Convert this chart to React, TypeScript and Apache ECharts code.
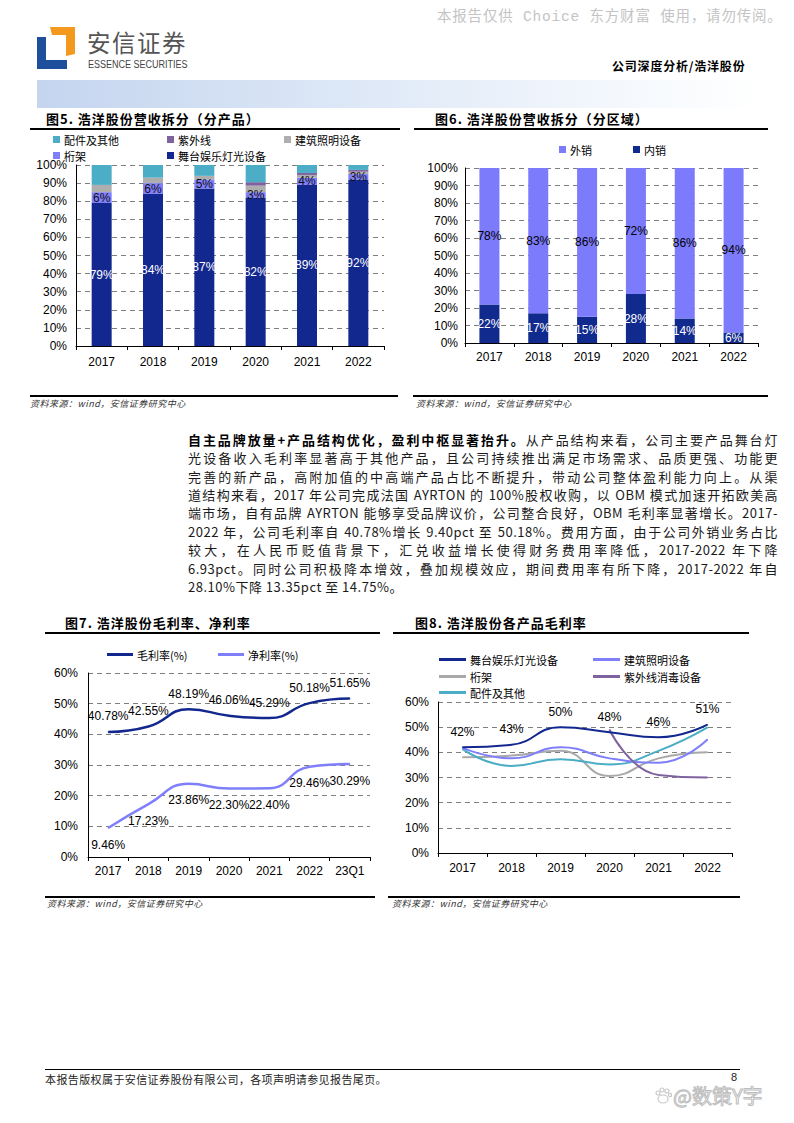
import React, { useEffect, useRef } from "react";
import * as echarts from "echarts";

// ---------- data ----------
const years = ["2017", "2018", "2019", "2020", "2021", "2022"];
const stageShare = [79, 84, 87, 82, 89, 92];
const trussShare = [6, 6, 5, 3, 4, 3];
const archShare = [4, 3, 2, 3.6, 1.5, 1.3];
const uvShare = [null, null, null, 1.9, 1.1, 1];
const partsShare = [11, 7, 6, 9.5, 4.4, 2.7];

const regionDomestic = [22, 17, 15, 28, 14, 6];
const regionOverseas = [78, 83, 86, 72, 86, 94];

const marginYears = ["2017", "2018", "2019", "2020", "2021", "2022", "23Q1"];
const grossMargin = [40.78, 42.55, 48.19, 46.06, 45.29, 50.18, 51.65];
const netMargin = [9.46, 17.23, 23.86, 22.3, 22.4, 29.46, 30.29];

const stageGM = [42, 43, 50, 48, 46, 51];
const archGM = [41.8, 37.6, 42, 37.6, 35.9, 45.1];
const trussGM = [38, 38.7, 40.6, 30.6, 37.6, 40];
const uvGM = [null, null, null, 49, 31, 30];
const partsGM = [41.3, 34.6, 37.3, 35.2, 40.6, 49.9];

const paragraphLines = [
  "从产品结构来看，公司主要产品舞台灯",
  "光设备收入毛利率显著高于其他产品，且公司持续推出满足市场需求、品质更强、功能更",
  "完善的新产品，高附加值的中高端产品占比不断提升，带动公司整体盈利能力向上。从渠",
  "道结构来看，2017 年公司完成法国 AYRTON 的 100%股权收购，以 OBM 模式加速开拓欧美高",
  "端市场，自有品牌 AYRTON 能够享受品牌议价，公司整合良好，OBM 毛利率显著增长。2017-",
  "2022 年，公司毛利率自 40.78%增长 9.40pct 至 50.18%。费用方面，由于公司外销业务占比",
  "较大，在人民币贬值背景下，汇兑收益增长使得财务费用率降低，2017-2022 年下降",
  "6.93pct。同时公司积极降本增效，叠加规模效应，期间费用率有所下降，2017-2022 年自",
  "28.10%下降 13.35pct 至 14.75%。",
];
const paragraphLead = "自主品牌放量+产品结构优化，盈利中枢显著抬升。";

// ---------- styles ----------
const FONT = "Arial, 'Liberation Sans', 'Noto Sans CJK SC', sans-serif";
const CJK = "'Noto Sans CJK SC', 'Liberation Sans', sans-serif";
const C_NAVY = "#13288f";
const C_LAV = "#7f7ffc";
const C_GRAY = "#aeaeae";
const C_PURPLE = "#7f62a0";
const C_TEAL = "#4badc6";

function yAxisPct(max: number, margin: number) {
  return {
    type: "value",
    min: 0,
    max,
    interval: 10,
    axisLine: { show: true, lineStyle: { color: "#000", width: 1 } },
    axisTick: { show: false },
    axisLabel: { formatter: "{value}%", color: "#000", fontSize: 12, fontFamily: FONT, margin },
    splitLine: { show: true, lineStyle: { color: "#7f7f7f", type: [5, 4], width: 1 } },
  };
}

function xAxisCat(data: string[], margin: number) {
  return {
    type: "category",
    data,
    boundaryGap: true,
    axisLine: { show: true, lineStyle: { color: "#000", width: 1 } },
    axisTick: { show: true, length: 4, lineStyle: { color: "#000" } },
    axisLabel: { color: "#000", fontSize: 12, fontFamily: FONT, margin },
    splitLine: { show: false },
  };
}

function legendItem(name: string, left: number, top: number, w: number, h: number) {
  return {
    show: true,
    data: [name],
    left,
    top,
    padding: 0,
    itemWidth: w,
    itemHeight: h,
    itemGap: 0,
    icon: "rect",
    selectedMode: false,
    textStyle: { color: "#000", fontSize: 11, fontFamily: CJK, padding: [0, 0, 0, -1] },
  };
}

function bar(name: string, data: any[], color: string, width: number, label?: any) {
  return {
    type: "bar",
    name,
    data,
    stack: "total",
    barWidth: width,
    itemStyle: { color },
    label: label
      ? { show: true, position: "inside", fontSize: 12, fontFamily: FONT, formatter: "{c}%", ...label }
      : { show: false },
  };
}

const fig5Option = {
  animation: false,
  grid: { left: 46, top: 35, width: 308, height: 181 },
  legend: [
    legendItem("配件及其他", 23, 4, 7, 7),
    legendItem("紫外线", 137, 4, 7, 7),
    legendItem("建筑照明设备", 254, 4, 7, 7),
    legendItem("桁架", 23, 20, 7, 7),
    legendItem("舞台娱乐灯光设备", 137, 20, 7, 7),
  ],
  xAxis: xAxisCat(years, 10),
  yAxis: yAxisPct(100, 9),
  series: [
    bar("舞台娱乐灯光设备", stageShare, C_NAVY, 20, { color: "#fff" }),
    bar("桁架", trussShare, C_LAV, 20, { color: "#111" }),
    bar("建筑照明设备", archShare, C_GRAY, 20),
    bar("紫外线", uvShare, C_PURPLE, 20),
    bar("配件及其他", partsShare, C_TEAL, 20),
  ],
};

const fig6Option = {
  animation: false,
  grid: { left: 65, top: 38, width: 293, height: 175 },
  legend: [legendItem("外销", 159, 14, 7, 7), legendItem("内销", 233, 14, 7, 7)],
  xAxis: xAxisCat(years, 8),
  yAxis: yAxisPct(100, 7),
  series: [
    bar("内销", regionDomestic, "#112a8e", 20, { color: "#fff" }),
    bar("外销", regionOverseas, "#7b7bfc", 20, { color: "#000" }),
  ],
};

function lineSeries(name: string, data: any[], color: string, width: number, label?: any) {
  return {
    type: "line",
    name,
    data,
    smooth: 0.5,
    symbol: "circle",
    symbolSize: 1,
    connectNulls: false,
    itemStyle: { color },
    lineStyle: { color, width },
    label: label
      ? { show: true, color: "#000", fontSize: 12, fontFamily: FONT, ...label }
      : { show: false },
  };
}

const fig7Option = {
  animation: false,
  grid: { left: 48, top: 39, width: 282, height: 184 },
  legend: [legendItem("毛利率(%)", 67, 15, 26, 3), legendItem("净利率(%)", 178, 15, 26, 3)],
  xAxis: xAxisCat(marginYears, 8),
  yAxis: yAxisPct(60, 10),
  series: [
    lineSeries("毛利率(%)", grossMargin, C_NAVY, 2.5, {
      position: "top",
      distance: 9,
      formatter: (p: any) => p.value.toFixed(2) + "%",
    }),
    lineSeries("净利率(%)", netMargin, C_LAV, 2.5, {
      position: "bottom",
      distance: 10,
      formatter: (p: any) => p.value.toFixed(2) + "%",
    }),
  ],
};

const fig8Option = {
  animation: false,
  grid: { left: 48, top: 68, width: 294, height: 151 },
  legend: [
    legendItem("舞台娱乐灯光设备", 49, 20, 27, 3),
    legendItem("建筑照明设备", 203, 20, 27, 3),
    legendItem("桁架", 49, 37, 27, 3),
    legendItem("紫外线消毒设备", 203, 37, 27, 3),
    legendItem("配件及其他", 49, 53, 27, 3),
  ],
  xAxis: xAxisCat(years, 9),
  yAxis: yAxisPct(60, 9),
  series: [
    lineSeries("桁架", trussGM, "#a9a9a9", 2),
    lineSeries("配件及其他", partsGM, C_TEAL, 2),
    lineSeries("建筑照明设备", archGM, C_LAV, 2),
    lineSeries("紫外线消毒设备", uvGM, C_PURPLE, 2),
    lineSeries("舞台娱乐灯光设备", stageGM, C_NAVY, 2, {
      position: "top",
      distance: 9,
      formatter: "{c}%",
    }),
  ],
};

function EChart({ option, style }: { option: any; style: React.CSSProperties }) {
  const ref = useRef<HTMLDivElement>(null);
  useEffect(() => {
    const chart = echarts.init(ref.current as HTMLDivElement, null, { renderer: "svg" });
    chart.setOption(option);
    return () => chart.dispose();
  }, []);
  return <div ref={ref} style={{ position: "absolute", ...style }} />;
}

const abs = (left: number, top: number, extra: React.CSSProperties = {}): React.CSSProperties => ({
  position: "absolute",
  left,
  top,
  ...extra,
});

function Title({ text, left, top }: { text: string; left: number; top: number }) {
  return (
    <div
      style={abs(left, top, {
        fontFamily: CJK,
        fontWeight: 700,
        fontSize: 13,
        letterSpacing: 1,
        lineHeight: "16px",
        color: "#000",
        whiteSpace: "nowrap",
      })}
    >
      {text}
    </div>
  );
}

function HLine({ left, top, width, h = 1.5 }: { left: number; top: number; width: number; h?: number }) {
  return <div style={abs(left, top, { width, height: h, background: "#000" })} />;
}

function Source({ left, top }: { left: number; top: number }) {
  return (
    <div
      style={abs(left, top, {
        fontFamily: CJK,
        fontStyle: "italic",
        fontSize: 9,
        letterSpacing: 0.5,
        color: "#333",
        lineHeight: "12px",
        whiteSpace: "nowrap",
      })}
    >
      资料来源：wind，安信证券研究中心
    </div>
  );
}

export default function App() {
  useEffect(() => {
    document.body.style.margin = "0";
  }, []);
  const lineH = 18.4;
  return (
    <div style={{ position: "absolute", left: 0, top: 0, width: 794, height: 1123, background: "#fff", overflow: "hidden" }}>
      {/* header watermark */}
      <div
        style={abs(437, 8, {
          fontFamily: "'Liberation Mono', 'Noto Sans CJK SC', monospace",
          fontSize: 14.5,
          letterSpacing: 0.8,
          color: "#c4c4c4",
          lineHeight: "18px",
          whiteSpace: "nowrap",
        })}
      >
        本报告仅供 Choice 东方财富 使用，请勿传阅。
      </div>

      {/* logo */}
      <svg style={abs(37, 27)} width={40} height={44} viewBox="0 0 40 44">
        <polygon points="13,0 38,0 38,27 29,29 29,8 15,8" fill="#f39a1e" />
        <polygon points="0,10 9,10 9,33 30,33 30,42 0,42" fill="#1d4f9c" />
      </svg>
      <div
        style={abs(87, 29.5, {
          fontFamily: CJK,
          fontSize: 23.5,
          color: "#555",
          lineHeight: "24px",
          letterSpacing: 1.5,
          whiteSpace: "nowrap",
        })}
      >
        安信证券
      </div>
      <div
        style={abs(88, 59.5, {
          fontFamily: "'Liberation Sans Narrow', 'Liberation Sans', Arial, sans-serif",
          fontSize: 10,
          color: "#444",
          lineHeight: "10px",
          whiteSpace: "nowrap",
          transform: "scaleX(0.9)",
          transformOrigin: "left center",
        })}
      >
        ESSENCE SECURITIES
      </div>
      <div
        style={abs(612, 59, {
          fontFamily: CJK,
          fontWeight: 700,
          fontSize: 12,
          letterSpacing: 0.8,
          color: "#000",
          lineHeight: "14px",
          whiteSpace: "nowrap",
        })}
      >
        公司深度分析/浩洋股份
      </div>
      <div
        style={abs(37, 80, {
          width: 723,
          height: 28,
          background: "linear-gradient(to right, #c5d5ef 0%, #dbe6f6 40%, #f4f8fd 80%, #ffffff 100%)",
        })}
      />

      {/* figure 5 & 6 titles */}
      <Title text="图5. 浩洋股份营收拆分（分产品）" left={46} top={111} />
      <HLine left={30} top={128} width={370} />
      <Title text="图6. 浩洋股份营收拆分（分区域）" left={435} top={111} />
      <HLine left={414} top={128} width={354} />

      <EChart option={fig5Option} style={{ left: 30, top: 130, width: 370, height: 250 }} />
      <EChart option={fig6Option} style={{ left: 400, top: 130, width: 394, height: 250 }} />

      <HLine left={30} top={395} width={368} />
      <HLine left={413} top={395} width={355} />
      <Source left={30} top={398} />
      <Source left={416} top={398} />

      {/* paragraph */}
      <div style={abs(188, 440 - lineH / 2, { width: 590 })}>
        {paragraphLines.map((t, i) => (
          <div
            key={i}
            style={{
              height: lineH,
              lineHeight: lineH + "px",
              fontFamily: CJK,
              fontSize: 13,
              letterSpacing: 0.5,
              color: "#1a1a1a",
              textAlign: "justify",
              textAlignLast: i === paragraphLines.length - 1 ? "left" : "justify",
              width: 590,
            }}
          >
            {i === 0 ? <span style={{ fontWeight: 700, color: "#000" }}>{paragraphLead}</span> : null}
            {t}
          </div>
        ))}
      </div>

      {/* figure 7 & 8 titles */}
      <Title text="图7. 浩洋股份毛利率、净利率" left={65} top={615} />
      <HLine left={45} top={632} width={335} />
      <Title text="图8. 浩洋股份各产品毛利率" left={415} top={615} />
      <HLine left={393} top={632} width={356} />

      <EChart option={fig7Option} style={{ left: 40, top: 634, width: 350, height: 250 }} />
      <EChart option={fig8Option} style={{ left: 390, top: 634, width: 404, height: 240 }} />

      <HLine left={45} top={896} width={330} />
      <HLine left={388} top={896} width={352} />
      <Source left={47} top={898} />
      <Source left={392} top={898} />

      {/* footer */}
      <HLine left={45} top={1069} width={695} h={1} />
      <div
        style={abs(45, 1072, {
          fontFamily: CJK,
          fontSize: 11,
          letterSpacing: 0.4,
          color: "#222",
          lineHeight: "14px",
          whiteSpace: "nowrap",
        })}
      >
        本报告版权属于安信证券股份有限公司，各项声明请参见报告尾页。
      </div>
      <div style={abs(731, 1071, { fontFamily: FONT, fontSize: 11, color: "#222", lineHeight: "12px" })}>8</div>
      <svg style={abs(654, 1087)} width={18} height={18} viewBox="0 0 18 18">
        <g fill="none" stroke="#c8c8c8" strokeWidth={1.2}>
          <ellipse cx={9} cy={12} rx={5} ry={4} />
          <circle cx={4} cy={6} r={2} />
          <circle cx={8} cy={3} r={2} />
          <circle cx={13} cy={4} r={2} />
          <circle cx={16} cy={8} r={1.6} />
        </g>
      </svg>
      <div
        style={abs(673, 1085, {
          fontFamily: CJK,
          fontSize: 20,
          color: "#fff",
          WebkitTextStroke: "1px #bdbdbd",
          lineHeight: "22px",
          whiteSpace: "nowrap",
        })}
      >
        @数策Y字
      </div>
    </div>
  );
}
